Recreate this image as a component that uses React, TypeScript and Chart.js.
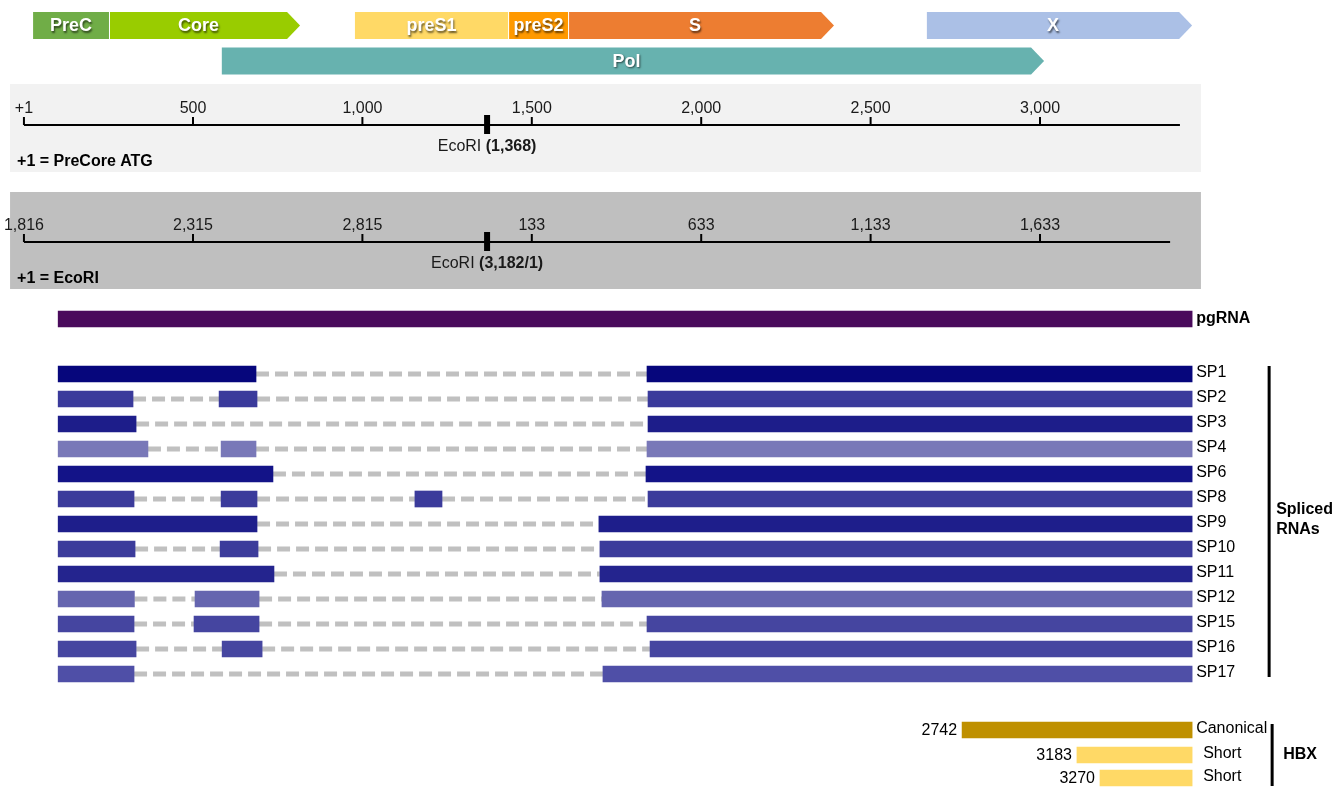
import React, { useEffect, useRef } from 'react';
import { Chart, registerables } from 'chart.js';

Chart.register(...registerables);

// ================= DATA (genome positions, +1 = PreCore ATG) =================
const geneNames = ['PreC', 'Core', 'preS1', 'preS2', 'S', 'X', 'Pol'];
const geneStarts = [28, 255, 978, 1433, 1610, 2666, 585];
const geneEnds = [252, 816, 1430, 1607, 2392, 3449, 3012];
const geneArrow = [false, true, false, false, true, true, true];
const geneTrack = [0, 0, 0, 0, 0, 0, 1];

const precoreTickValues = [1, 500, 1000, 1500, 2000, 2500, 3000];
const precoreTickLabels = ['+1', '500', '1,000', '1,500', '2,000', '2,500', '3,000'];
const ecoriTickLabels = ['1,816', '2,315', '2,815', '133', '633', '1,133', '1,633'];
const ecoriSite = 1368;
const precoreEcoriLabel = ['EcoRI ', '(1,368)'];
const ecoriEcoriLabel = ['EcoRI ', '(3,182/1)'];
const precoreAxisRange = [1, 3413];
const ecoriAxisRange = [1, 3384];
const precoreNote = '+1 = PreCore ATG';
const ecoriNote = '+1 = EcoRI';

const pgRNAName = 'pgRNA';
const pgRNARange = [102, 3449];

const spNames = ['SP1', 'SP2', 'SP3', 'SP4', 'SP6', 'SP8', 'SP9', 'SP10', 'SP11', 'SP12', 'SP15', 'SP16', 'SP17'];
const spExons: number[][][] = [
  [[102, 686], [1840, 3449]],
  [[102, 323], [577, 689], [1843, 3449]],
  [[102, 332], [1843, 3449]],
  [[102, 367], [583, 686], [1840, 3449]],
  [[102, 736], [1837, 3449]],
  [[102, 326], [583, 689], [1155, 1235], [1843, 3449]],
  [[102, 689], [1698, 3449]],
  [[102, 329], [580, 692], [1701, 3449]],
  [[102, 739], [1701, 3449]],
  [[102, 327], [506, 695], [1707, 3449]],
  [[102, 326], [503, 695], [1840, 3449]],
  [[102, 332], [586, 704], [1849, 3449]],
  [[102, 326], [1710, 3449]],
];
const splicedGroupLabel = ['Spliced', 'RNAs'];

const hbxNames = ['Canonical', 'Short', 'Short'];
const hbxStarts = [2770, 3109, 3177];
const hbxEnds = [3449, 3449, 3449];
const hbxStartLabels = ['2742', '3183', '3270'];
const hbxGroupLabel = 'HBX';

// ================= STYLE / LAYOUT =================
const FONT = '"Liberation Sans", Arial, Helvetica, sans-serif';
const FS = 16;
const GENE_COLORS = ['#70ad47', '#99cc00', '#ffd966', '#ff9900', '#ed7d31', '#abc0e6', '#67b2af'];
const SP_COLORS = ['#06067c', '#3a3a9b', '#1d1d8a', '#7978b8', '#131388', '#3b3b9b', '#1e1e8b', '#3c3c9b', '#24248e', '#6565af', '#4545a0', '#4646a0', '#4f4fa7'];
const PG_COLOR = '#4a0b5c';
const HBX_COLORS = ['#bf9000', '#ffd966', '#ffd966'];
const INTRON_COLOR = '#c0c0c0';

const W = 1337;
const H = 789;
const X_MIN = -69.66;
const X_MAX = 3876.6;
const L = {
  trackY: [25.5, 61],
  geneH: 27,
  tip: 13,
  panelX: [-40, 3475],
  panel1: [84, 172],
  axis1Y: 125,
  panel2: [192, 289],
  axis2Y: 242,
  pgY: 319,
  spY0: 374,
  spStep: 25,
  barH: 16,
  hbxY: [730, 755, 778],
};
const spY = (i: number) => L.spY0 + L.spStep * i;

// ================= datasets built from data =================
const exonPoints: any[] = [];
const exonColors: string[] = [];
spExons.forEach((exons, r) => {
  exons.forEach((e) => {
    exonPoints.push({ x: [e[0], e[1]], y: spY(r) });
    exonColors.push(SP_COLORS[r]);
  });
});

const intronPoints: any[] = [];
spExons.forEach((exons, r) => {
  for (let k = 0; k < exons.length - 1; k++) {
    intronPoints.push({ x: exons[k][1], y: spY(r) });
    intronPoints.push({ x: exons[k + 1][0], y: spY(r) });
    intronPoints.push({ x: exons[k + 1][0], y: null });
  }
});

const hbxPoints = hbxNames.map((_, i) => ({ x: [hbxStarts[i], hbxEnds[i]], y: L.hbxY[i] }));

function mixedText(ctx: CanvasRenderingContext2D, parts: string[], cx: number, y: number, size: number) {
  ctx.font = `${size}px ${FONT}`;
  const w0 = ctx.measureText(parts[0]).width;
  ctx.font = `bold ${size}px ${FONT}`;
  const w1 = ctx.measureText(parts[1]).width;
  const x = cx - (w0 + w1) / 2;
  ctx.textAlign = 'left';
  ctx.font = `${size}px ${FONT}`;
  ctx.fillText(parts[0], x, y);
  ctx.font = `bold ${size}px ${FONT}`;
  ctx.fillText(parts[1], x + w0, y);
}

const diagramPlugin = {
  id: 'diagram',
  beforeDatasetsDraw(chart: any) {
    const ctx: CanvasRenderingContext2D = chart.ctx;
    const xs = chart.scales.x;
    const ys = chart.scales.y;
    const px = (v: number) => xs.getPixelForValue(v);
    const py = (v: number) => ys.getPixelForValue(v);
    ctx.save();

    // gene map
    geneNames.forEach((name, i) => {
      const x0 = px(geneStarts[i]);
      const x1 = px(geneEnds[i]);
      const yc = py(L.trackY[geneTrack[i]]);
      const top = yc - L.geneH / 2;
      const bot = yc + L.geneH / 2;
      const bodyEnd = geneArrow[i] ? x1 - L.tip : x1;
      ctx.beginPath();
      ctx.moveTo(x0, top);
      ctx.lineTo(bodyEnd, top);
      if (geneArrow[i]) ctx.lineTo(x1, yc);
      ctx.lineTo(bodyEnd, bot);
      ctx.lineTo(x0, bot);
      ctx.closePath();
      ctx.fillStyle = GENE_COLORS[i];
      ctx.fill();
      ctx.save();
      ctx.shadowColor = 'rgba(0,0,0,0.6)';
      ctx.shadowOffsetX = 1;
      ctx.shadowOffsetY = 1.5;
      ctx.shadowBlur = 2;
      ctx.fillStyle = '#ffffff';
      ctx.font = `bold 18px ${FONT}`;
      ctx.textAlign = 'center';
      ctx.textBaseline = 'middle';
      ctx.fillText(name, (x0 + bodyEnd) / 2, yc + 1);
      ctx.restore();
    });

    // axis panels
    const drawPanel = (band: number[], bg: string, axisY: number, range: number[], labels: string[], ecoLabel: string[], note: string) => {
      const left = px(L.panelX[0]);
      const right = px(L.panelX[1]);
      const top = py(band[0]);
      const bottom = py(band[1]);
      ctx.fillStyle = bg;
      ctx.fillRect(left, top, right - left, bottom - top);
      const ay = py(axisY);
      ctx.strokeStyle = '#000';
      ctx.lineWidth = 2;
      ctx.beginPath();
      ctx.moveTo(px(range[0]), ay);
      ctx.lineTo(px(range[1]), ay);
      ctx.stroke();
      ctx.fillStyle = '#1a1a1a';
      ctx.font = `${FS}px ${FONT}`;
      ctx.textAlign = 'center';
      ctx.textBaseline = 'alphabetic';
      precoreTickValues.forEach((v, i) => {
        const tx = px(v);
        ctx.beginPath();
        ctx.moveTo(tx, ay - 8);
        ctx.lineTo(tx, ay);
        ctx.stroke();
        ctx.fillText(labels[i], tx, ay - 12);
      });
      const ex = px(ecoriSite);
      ctx.fillStyle = '#000';
      ctx.fillRect(ex - 3, ay - 10, 6, 19);
      ctx.fillStyle = '#1a1a1a';
      mixedText(ctx, ecoLabel, ex, ay + 26, FS);
      ctx.fillStyle = '#000';
      ctx.font = `bold ${FS}px ${FONT}`;
      ctx.textAlign = 'left';
      ctx.fillText(note, left + 7, bottom - 6);
    };
    drawPanel(L.panel1, '#f2f2f2', L.axis1Y, precoreAxisRange, precoreTickLabels, precoreEcoriLabel, precoreNote);
    drawPanel(L.panel2, '#bfbfbf', L.axis2Y, ecoriAxisRange, ecoriTickLabels, ecoriEcoriLabel, ecoriNote);
    ctx.restore();
  },
  afterDatasetsDraw(chart: any) {
    const ctx: CanvasRenderingContext2D = chart.ctx;
    const xs = chart.scales.x;
    const ys = chart.scales.y;
    const px = (v: number) => xs.getPixelForValue(v);
    const py = (v: number) => ys.getPixelForValue(v);
    ctx.save();
    ctx.fillStyle = '#000';
    ctx.textBaseline = 'middle';
    ctx.textAlign = 'left';

    const endX = px(pgRNARange[1]);
    ctx.font = `bold ${FS}px ${FONT}`;
    ctx.fillText(pgRNAName, endX + 4, py(L.pgY));

    ctx.font = `${FS}px ${FONT}`;
    spNames.forEach((n, i) => {
      const lastExon = spExons[i][spExons[i].length - 1];
      ctx.fillText(n, px(lastExon[1]) + 4, py(spY(i)) - 1);
    });

    // spliced bracket
    const bx = endX + 77;
    ctx.strokeStyle = '#000';
    ctx.lineWidth = 3;
    ctx.beginPath();
    ctx.moveTo(bx, py(spY(0)) - 8);
    ctx.lineTo(bx, py(spY(spNames.length - 1)) + 3);
    ctx.stroke();
    ctx.font = `bold ${FS}px ${FONT}`;
    const midY = py((spY(0) + spY(spNames.length - 1)) / 2);
    ctx.fillText(splicedGroupLabel[0], bx + 7, midY - 14);
    ctx.fillText(splicedGroupLabel[1], bx + 7, midY + 6);

    // HBX labels
    ctx.font = `${FS}px ${FONT}`;
    hbxNames.forEach((n, i) => {
      const y = py(L.hbxY[i]);
      ctx.textAlign = 'right';
      ctx.fillText(hbxStartLabels[i], px(hbxStarts[i]) - 5, y + 1);
      ctx.textAlign = 'left';
      ctx.fillText(n, px(hbxEnds[i]) + (i === 0 ? 4 : 11), y - 1);
    });
    const hx = px(hbxEnds[0]) + 80;
    ctx.beginPath();
    ctx.moveTo(hx, py(L.hbxY[0]) - 6);
    ctx.lineTo(hx, py(L.hbxY[2]) + 8);
    ctx.stroke();
    ctx.font = `bold ${FS}px ${FONT}`;
    ctx.textAlign = 'left';
    ctx.fillText(hbxGroupLabel, hx + 11, py(L.hbxY[1]));
    ctx.restore();
  },
};

export default function App() {
  const ref = useRef<HTMLCanvasElement>(null);
  useEffect(() => {
    if (!ref.current) return;
    const chart = new Chart(ref.current, {
      type: 'bar',
      data: {
        datasets: [
          {
            type: 'line',
            label: 'Introns',
            data: intronPoints,
            borderColor: INTRON_COLOR,
            borderWidth: 5,
            borderDash: [13, 6],
            borderCapStyle: 'butt',
            pointRadius: 0,
            fill: false,
            spanGaps: false,
            tension: 0,
            order: 3,
          } as any,
          {
            type: 'bar',
            label: pgRNAName,
            indexAxis: 'y',
            grouped: false,
            barThickness: L.barH,
            data: [{ x: pgRNARange, y: L.pgY }],
            backgroundColor: PG_COLOR,
            borderWidth: 0,
            order: 1,
          } as any,
          {
            type: 'bar',
            label: 'Spliced RNAs',
            indexAxis: 'y',
            grouped: false,
            barThickness: L.barH,
            data: exonPoints,
            backgroundColor: exonColors,
            borderWidth: 0,
            order: 0,
          } as any,
          {
            type: 'bar',
            label: hbxGroupLabel,
            indexAxis: 'y',
            grouped: false,
            barThickness: L.barH,
            data: hbxPoints,
            backgroundColor: HBX_COLORS,
            borderWidth: 0,
            order: 0,
          } as any,
        ],
      },
      options: {
        animation: false,
        responsive: false,
        maintainAspectRatio: false,
        layout: { padding: 0 },
        plugins: { legend: { display: false }, tooltip: { enabled: false }, title: { display: false } },
        scales: {
          x: { type: 'linear', min: X_MIN, max: X_MAX, bounds: 'data', offset: false, display: false },
          y: { type: 'linear', min: 0, max: H, reverse: true, bounds: 'data', offset: false, display: false },
        },
      } as any,
      plugins: [diagramPlugin as any],
    });
    return () => chart.destroy();
  }, []);
  return (
    <div style={{ position: 'fixed', left: 0, top: 0, width: W, height: H, background: '#ffffff' }}>
      <canvas ref={ref} width={W} height={H} style={{ display: 'block' }} />
    </div>
  );
}
